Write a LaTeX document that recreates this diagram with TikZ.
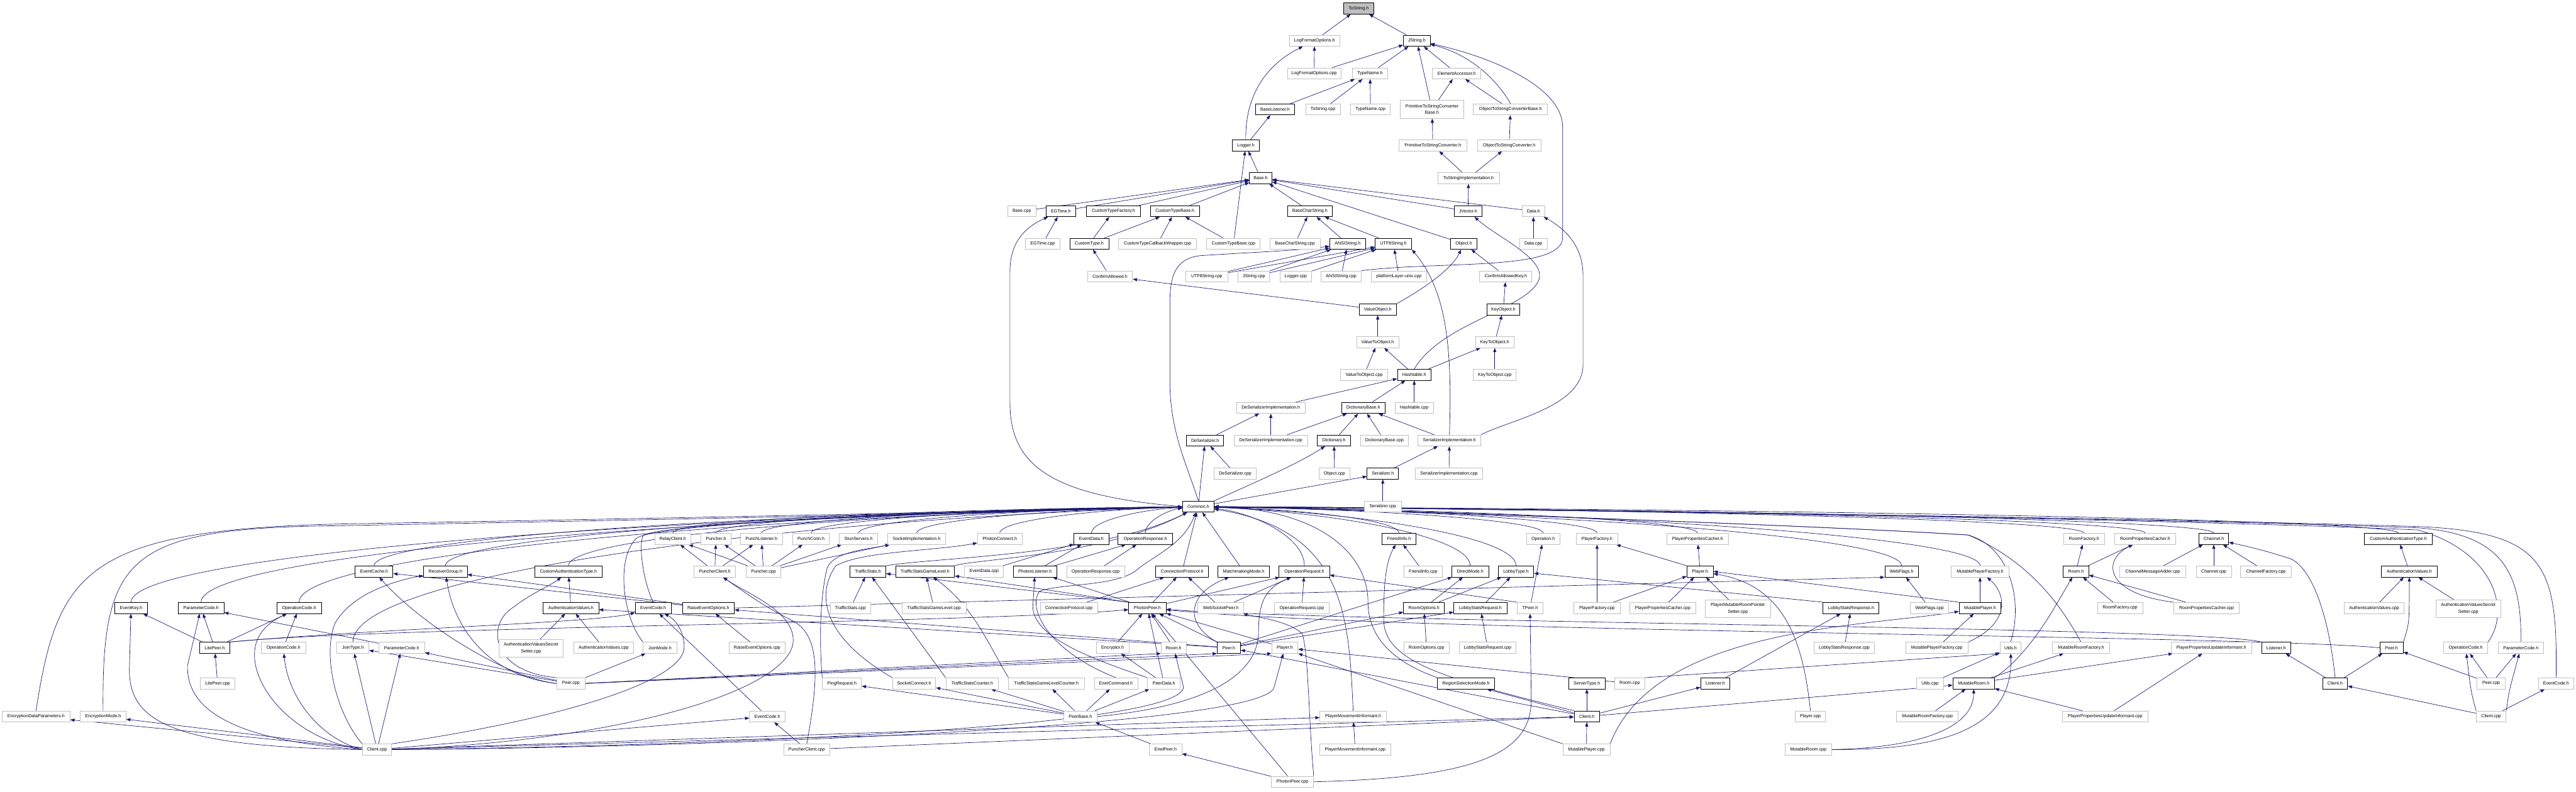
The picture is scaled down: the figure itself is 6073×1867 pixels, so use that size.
\documentclass[tikz,border=0pt]{standalone}
\usepackage{fontspec}
\setmainfont{Liberation Sans}
\usetikzlibrary{arrows.meta,calc}
\pgfdeclarelayer{bg}
\pgfsetlayers{bg,main}
\definecolor{edgec}{RGB}{25,25,112}
\definecolor{undgray}{RGB}{191,191,191}
\newcommand\mkn[6]{\node[#1,minimum width=#5pt] (#2) at (#3,#4) {#6};}
\newcommand\edg[2]{\draw[e] (#1) -- (#2);}
\newcommand\tocom[1]{\draw[e] (#1.north) to[cv] (common);}
\begin{document}
\begin{tikzpicture}[x=1pt,y=-1pt,
 box/.style={rectangle,inner sep=0pt,minimum height=26pt,font=\fontsize{10.5}{16}\selectfont,line width=1.2pt,fill=white,align=center},
 doc/.style={box,draw=black},
 und/.style={box,draw=undgray},
 two/.style={minimum height=42pt},
 e/.style={draw=edgec,line width=1pt,-{Triangle[length=10pt,width=7.5pt]}},
 cv/.style={to path={let \p1=(\tikztostart), \p2=(\tikztotarget) in .. controls (\x1,{0.5*\y1+0.5*\y2}) and ({0.5*\x1+0.5*\x2},{0.9*\y2+0.1*\y1}) .. (\tikztotarget)}}
]
\useasboundingbox (0,0) rectangle (6073,1867);
\begin{pgfonlayer}{bg}
\fill[white] (0,0) rectangle (6073,1867);
\end{pgfonlayer}
% ---------- upper part ----------
\mkn{doc,fill=undgray}{tostr}{3203}{20}{71}{ToString.h}
\mkn{und}{lfoh}{3099}{96}{119}{LogFormatOptions.h}
\mkn{doc}{jstrh}{3340}{96}{63}{JString.h}
\mkn{und}{lfocpp}{3098}{173}{126}{LogFormatOptions.cpp}
\mkn{und}{tnh}{3230}{173}{83}{TypeName.h}
\mkn{und}{eah}{3434}{173}{114}{ElementAccessor.h}
\mkn{doc}{blh}{3006}{258}{93}{BaseListener.h}
\mkn{und}{tscpp}{3119}{258}{81}{ToString.cpp}
\mkn{und}{tncpp}{3231}{258}{93}{TypeName.cpp}
\mkn{und,two}{ptscb}{3376}{258}{150}{PrimitiveToStringConverter\\Base.h}
\mkn{und}{otscb}{3561}{258}{175}{ObjectToStringConverterBase.h}
\mkn{doc}{loggerh}{2937}{343}{64}{Logger.h}
\mkn{und}{ptsc}{3378}{343}{159}{PrimitiveToStringConverter.h}
\mkn{und}{otsc}{3558}{343}{150}{ObjectToStringConverter.h}
\mkn{doc}{baseh}{2972}{420}{53}{Base.h}
\mkn{und}{tsimpl}{3462}{420}{145}{ToStringImplementation.h}
\mkn{und}{basecpp}{2409}{498}{66}{Base.cpp}
\mkn{doc}{egth}{2501}{498}{70}{EGTime.h}
\mkn{doc}{ctfh}{2625}{498}{128}{CustomTypeFactory.h}
\mkn{doc}{ctbh}{2770}{498}{115}{CustomTypeBase.h}
\mkn{doc}{bcsh}{3088}{498}{106}{BaseCharString.h}
\mkn{doc}{jvech}{3461}{498}{65}{JVector.h}
\mkn{und}{datah}{3615}{498}{53}{Data.h}
\mkn{und}{egtcpp}{2458}{575}{81}{EGTime.cpp}
\mkn{doc}{cth}{2568}{575}{92}{CustomType.h}
\mkn{und}{ctcwcpp}{2729}{575}{184}{CustomTypeCallbackWrapper.cpp}
\mkn{und}{ctbcpp}{2908}{575}{126}{CustomTypeBase.cpp}
\mkn{und}{bcscpp}{3053}{575}{118}{BaseCharString.cpp}
\mkn{doc}{ansih}{3177}{575}{84}{ANSIString.h}
\mkn{doc}{utf8h}{3285}{575}{86}{UTF8String.h}
\mkn{doc}{objh}{3451}{575}{62}{Object.h}
\mkn{und}{datacpp}{3615}{575}{65}{Data.cpp}
\mkn{und}{cah}{2617}{652}{106}{ConfirmAllowed.h}
\mkn{und}{utf8cpp}{2845}{652}{98}{UTF8String.cpp}
\mkn{und}{jstrcpp}{2956}{652}{74}{JString.cpp}
\mkn{und}{loggercpp}{3055}{652}{75}{Logger.cpp}
\mkn{und}{ansicpp}{3162}{652}{95}{ANSIString.cpp}
\mkn{und}{plcpp}{3298}{652}{131}{platformLayer-unix.cpp}
\mkn{und}{cakh}{3550}{652}{123}{ConfirmAllowedKey.h}
\mkn{doc}{voh}{3248}{730}{88}{ValueObject.h}
\mkn{doc}{koh}{3544}{730}{78}{KeyObject.h}
\mkn{und}{vtoh}{3248}{807}{100}{ValueToObject.h}
\mkn{und}{ktoh}{3524}{807}{91}{KeyToObject.h}
\mkn{und}{vtocpp}{3216}{884}{112}{ValueToObject.cpp}
\mkn{doc}{hth}{3334}{884}{79}{Hashtable.h}
\mkn{und}{ktocpp}{3524}{884}{101}{KeyToObject.cpp}
\mkn{und}{dsih}{2996}{962}{162}{DeSerializerImplementation.h}
\mkn{doc}{dbh}{3214}{962}{102}{DictionaryBase.h}
\mkn{und}{htcpp}{3334}{962}{90}{Hashtable.cpp}
\mkn{doc}{dsh}{2841}{1039}{88}{DeSerializer.h}
\mkn{und}{dsicpp}{2996}{1039}{173}{DeSerializerImplementation.cpp}
\mkn{doc}{dicth}{3145}{1039}{78}{Dictionary.h}
\mkn{und}{dbcpp}{3264}{1039}{112}{DictionaryBase.cpp}
\mkn{und}{sih}{3417}{1039}{148}{SerializerImplementation.h}
\mkn{und}{dscpp}{2912}{1117}{100}{DeSerializer.cpp}
\mkn{und}{objcpp}{3146}{1117}{73}{Object.cpp}
\mkn{doc}{serh}{3260}{1117}{74}{Serializer.h}
\mkn{und}{sicpp}{3416}{1117}{158}{SerializerImplementation.cpp}
\mkn{doc}{common}{2825}{1195}{74}{Common.h}
\mkn{und}{sercpp}{3260}{1195}{87}{Serializer.cpp}
% ---------- row A ----------
\mkn{und}{relayh}{1586}{1271}{85}{RelayClient.h}
\mkn{und}{puncherh}{1688}{1271}{70}{Puncher.h}
\mkn{und}{plh}{1795}{1271}{99}{PunchListener.h}
\mkn{und}{pconnh}{1912}{1271}{86}{PunchConn.h}
\mkn{und}{stunh}{2024}{1271}{90}{StunServers.h}
\mkn{und}{sockimplh}{2161}{1271}{136}{SocketImplementation.h}
\mkn{und}{pconnecth}{2357}{1271}{105}{PhotonConnect.h}
\mkn{doc}{edh}{2573}{1271}{82}{EventData.h}
\mkn{doc}{orh}{2700}{1271}{128}{OperationResponse.h}
\mkn{doc}{fih}{3298}{1271}{80}{FriendInfo.h}
\mkn{und}{oph}{3638}{1271}{79}{Operation.h}
\mkn{und}{pfh}{3765}{1271}{97}{PlayerFactory.h}
\mkn{und}{ppch}{4002}{1271}{145}{PlayerPropertiesCacher.h}
\mkn{und}{rfh}{4913}{1271}{96}{RoomFactory.h}
\mkn{und}{rpch}{5057}{1271}{144}{RoomPropertiesCacher.h}
\mkn{doc}{chanh}{5219}{1271}{70}{Channel.h}
\mkn{doc}{catc}{5654}{1271}{159}{CustomAuthenticationType.h}
% ---------- row B ----------
\mkn{doc}{ecacheh}{882}{1348}{89}{EventCache.h}
\mkn{doc}{rgh}{1050}{1348}{103}{ReceiverGroup.h}
\mkn{doc}{cat}{1340}{1348}{159}{CustomAuthenticationType.h}
\mkn{und}{pch}{1685}{1348}{99}{PuncherClient.h}
\mkn{und}{punchercpp}{1800}{1348}{82}{Puncher.cpp}
\mkn{doc}{tsh}{2046}{1348}{85}{TrafficStats.h}
\mkn{doc}{tsglh}{2181}{1348}{139}{TrafficStatsGameLevel.h}
\mkn{und}{edcpp}{2320}{1348}{92}{EventData.cpp}
\mkn{doc}{plish}{2440}{1348}{102}{PhotonListener.h}
\mkn{und}{orcpp}{2583}{1348}{137}{OperationResponse.cpp}
\mkn{doc}{cph}{2787}{1348}{125}{ConnectionProtocol.h}
\mkn{doc}{mmh}{2932}{1348}{122}{MatchmakingMode.h}
\mkn{doc}{oreqh}{3075}{1348}{119}{OperationRequest.h}
\mkn{und}{ficpp}{3355}{1348}{90}{FriendInfo.cpp}
\mkn{doc}{dmh}{3466}{1348}{87}{DirectMode.h}
\mkn{doc}{lth}{3574}{1348}{84}{LobbyType.h}
\mkn{doc}{playerh}{4008}{1348}{62}{Player.h}
\mkn{doc}{wfh}{4483}{1348}{79}{WebFlags.h}
\mkn{und}{mpfh}{4668}{1348}{135}{MutablePlayerFactory.h}
\mkn{doc}{roomh}{4894}{1348}{60}{Room.h}
\mkn{und}{cmacpp}{5075}{1348}{155}{ChannelMessageAdder.cpp}
\mkn{und}{chancpp}{5219}{1348}{83}{Channel.cpp}
\mkn{und}{chanfcpp}{5342}{1348}{119}{ChannelFactory.cpp}
\mkn{doc}{avhc}{5680}{1348}{131}{AuthenticationValues.h}
% ---------- row C ----------
\mkn{doc}{ekh}{309}{1434}{77}{EventKey.h}
\mkn{doc}{pcbh}{474}{1434}{108}{ParameterCode.h}
\mkn{doc}{ocbh}{705}{1434}{105}{OperationCode.h}
\mkn{doc}{avh}{1346}{1434}{131}{AuthenticationValues.h}
\mkn{doc}{ecbh}{1540}{1434}{85}{EventCode.h}
\mkn{doc}{reoh}{1670}{1434}{122}{RaiseEventOptions.h}
\mkn{und}{tscpp2}{2005}{1434}{96}{TrafficStats.cpp}
\mkn{und}{tsglcpp}{2202}{1434}{151}{TrafficStatsGameLevel.cpp}
\mkn{und}{cpcpp}{2520}{1434}{135}{ConnectionProtocol.cpp}
\mkn{doc}{ppeerh}{2705}{1434}{88}{PhotonPeer.h}
\mkn{und}{wsph}{2878}{1434}{109}{WebSocketPeer.h}
\mkn{und}{oreqcpp}{3069}{1434}{130}{OperationRequest.cpp}
\mkn{doc}{roh}{3357}{1434}{96}{RoomOptions.h}
\mkn{doc}{lsreqh}{3490}{1434}{125}{LobbyStatsRequest.h}
\mkn{und}{tpeerh}{3607}{1434}{61}{TPeer.h}
\mkn{und}{pfcpp}{3765}{1434}{109}{PlayerFactory.cpp}
\mkn{und}{ppccpp}{3920}{1434}{156}{PlayerPropertiesCacher.cpp}
\mkn{und,two}{pmrpscpp}{4097}{1436}{154}{PlayerMutableRoomPointer\\Setter.cpp}
\mkn{doc}{lsresph}{4364}{1434}{132}{LobbyStatsResponse.h}
\mkn{und}{wfcpp}{4549}{1434}{90}{WebFlags.cpp}
\mkn{doc}{mph}{4668}{1434}{99}{MutablePlayer.h}
\mkn{und}{rfcpp}{4998}{1434}{107}{RoomFactory.cpp}
\mkn{und}{rpccpp}{5202}{1434}{155}{RoomPropertiesCacher.cpp}
\mkn{und}{avcppc}{5597}{1434}{142}{AuthenticationValues.cpp}
\mkn{und,two}{avsscppc}{5819}{1436}{152}{AuthenticationValuesSecret\\Setter.cpp}
% ---------- row D ----------
\mkn{doc}{liteph}{506}{1528}{71}{LitePeer.h}
\mkn{und}{ocgh}{668}{1528}{105}{OperationCode.h}
\mkn{und}{jth}{832}{1528}{75}{JoinType.h}
\mkn{und}{pcgh}{947}{1528}{108}{ParameterCode.h}
\mkn{und,two}{avsscpp}{1252}{1529}{152}{AuthenticationValuesSecret\\Setter.cpp}
\mkn{und}{avcpp}{1423}{1528}{141}{AuthenticationValues.cpp}
\mkn{und}{jmh}{1556}{1528}{79}{JoinMode.h}
\mkn{und}{reocpp}{1785}{1528}{132}{RaiseEventOptions.cpp}
\mkn{und}{encrh}{2623}{1528}{77}{Encryptor.h}
\mkn{und}{roomgh}{2767}{1528}{60}{Room.h}
\mkn{doc}{peerh}{2897}{1528}{55}{Peer.h}
\mkn{und}{playergh}{3029}{1528}{62}{Player.h}
\mkn{und}{rocpp}{3363}{1528}{106}{RoomOptions.cpp}
\mkn{und}{lsreqcpp}{3507}{1528}{133}{LobbyStatsRequest.cpp}
\mkn{und}{lsrespcpp}{4348}{1528}{143}{LobbyStatsResponse.cpp}
\mkn{und}{mpfcpp}{4566}{1528}{147}{MutablePlayerFactory.cpp}
\mkn{und}{utilsh}{4740}{1528}{50}{Utils.h}
\mkn{und}{mrfh}{4906}{1528}{134}{MutableRoomFactory.h}
\mkn{und}{ppuih}{5213}{1528}{190}{PlayerPropertiesUpdateInformant.h}
\mkn{doc}{lisch}{5366}{1528}{69}{Listener.h}
\mkn{doc}{peerhc}{5638}{1528}{55}{Peer.h}
\mkn{und}{occh}{5813}{1528}{104}{OperationCode.h}
\mkn{und}{pcch}{5943}{1528}{108}{ParameterCode.h}
% ---------- row E ----------
\mkn{und}{litepcpp}{513}{1612}{82}{LitePeer.cpp}
\mkn{und}{peercpp}{1346}{1612}{67}{Peer.cpp}
\mkn{und}{pingh}{1985}{1612}{92}{PingRequest.h}
\mkn{und}{sockch}{2155}{1612}{102}{SocketConnect.h}
\mkn{und}{tsch}{2292}{1612}{124}{TrafficStatsCounter.h}
\mkn{und}{tsglch}{2467}{1612}{178}{TrafficStatsGameLevelCounter.h}
\mkn{und}{enetch}{2631}{1612}{102}{EnetCommand.h}
\mkn{und}{pdh}{2744}{1612}{77}{PeerData.h}
\mkn{doc}{rsmh}{3456}{1612}{134}{RegionSelectionMode.h}
\mkn{doc}{sth}{3741}{1612}{86}{ServerType.h}
\mkn{und}{roomcpp}{3842}{1612}{71}{Room.cpp}
\mkn{doc}{lish}{4044}{1612}{69}{Listener.h}
\mkn{und}{utilscpp}{4550}{1612}{63}{Utils.cpp}
\mkn{doc}{mrh}{4653}{1612}{98}{MutableRoom.h}
\mkn{doc}{clienthc}{5505}{1612}{59}{Client.h}
\mkn{und}{peercppc}{5873}{1612}{66}{Peer.cpp}
\mkn{und}{ecch}{6026}{1612}{84}{EventCode.h}
% ---------- row F ----------
\mkn{und}{edph}{85}{1690}{160}{EncryptionDataParameters.h}
\mkn{und}{emh}{243}{1690}{108}{EncryptionMode.h}
\mkn{und}{ecgh}{1809}{1690}{84}{EventCode.h}
\mkn{und}{peerbaseh}{2547}{1690}{79}{PeerBase.h}
\mkn{und}{pmih}{3190}{1690}{157}{PlayerMovementInformant.h}
\mkn{doc}{clienth}{3741}{1690}{60}{Client.h}
\mkn{und}{playercpp}{4268}{1690}{71}{Player.cpp}
\mkn{und}{mrfcpp}{4544}{1690}{145}{MutableRoomFactory.cpp}
\mkn{und}{ppuicpp}{4963}{1690}{203}{PlayerPropertiesUpdateInformant.cpp}
\mkn{und}{clientcppc}{5873}{1690}{70}{Client.cpp}
% ---------- row G / H ----------
\mkn{und}{clientcpp}{889}{1768}{69}{Client.cpp}
\mkn{und}{pccpp}{1902}{1768}{109}{PuncherClient.cpp}
\mkn{und}{enetph}{2748}{1768}{76}{EnetPeer.h}
\mkn{und}{pmicpp}{3195}{1768}{168}{PlayerMovementInformant.cpp}
\mkn{und}{mpcpp}{3740}{1768}{111}{MutablePlayer.cpp}
\mkn{und}{mrcpp}{4263}{1768}{109}{MutableRoom.cpp}
\mkn{und}{ppcpp}{3047}{1844}{99}{PhotonPeer.cpp}

\begin{pgfonlayer}{bg}
% ===== upper part edges =====
\edg{lfoh}{tostr}
\edg{jstrh}{tostr}
\edg{lfocpp}{lfoh}
\draw[e] (loggerh.north) .. controls (2935,220) and (2990,150) .. (lfoh);
\edg{lfocpp}{jstrh}
\edg{tnh}{jstrh}
\edg{ptscb}{jstrh}
\edg{eah}{jstrh}
\draw[e] (otscb.north) .. controls (3530,190) and (3470,130) .. (jstrh);
\draw[e] (ansicpp.north east) .. controls (3400,615) and (3684,640) .. (3684,560) -- (3684,300) .. controls (3684,200) and (3500,130) .. (jstrh);
\edg{blh}{tnh}
\edg{tscpp}{tnh}
\edg{tncpp}{tnh}
\edg{ptscb}{eah}
\edg{otscb}{eah}
\edg{ptsc}{ptscb}
\edg{otsc}{otscb}
\edg{tsimpl}{ptsc}
\edg{tsimpl}{otsc}
\edg{loggerh}{blh}
\edg{baseh}{loggerh}
\edg{jvech}{tsimpl}
\edg{basecpp}{baseh}
\edg{egth}{baseh}
\edg{ctfh}{baseh}
\edg{ctbh}{baseh}
\edg{bcsh}{baseh}
\edg{objh}{baseh}
\edg{jvech}{baseh}
\edg{datah}{baseh}
\edg{ctbcpp}{loggerh}
\edg{egtcpp}{egth}
\draw[e] (common.west) .. controls (2480,1170) and (2381,1100) .. (2381,950) -- (2381,640) .. controls (2381,560) and (2430,530) .. (egth);
\edg{cth}{ctfh}
\edg{cth}{ctbh}
\edg{ctcwcpp}{ctbh}
\edg{ctbcpp}{ctbh}
\edg{bcscpp}{bcsh}
\edg{ansih}{bcsh}
\edg{utf8h}{bcsh}
\draw[e] (hth.north) .. controls (3400,760) and (3600,730) .. (3628,660) .. controls (3645,610) and (3530,560) .. (jvech);
\edg{datacpp}{datah}
\draw[e] (sih.north east) .. controls (3560,990) and (3732,960) .. (3732,860) -- (3732,650) .. controls (3732,580) and (3690,540) .. (datah);
\draw[e] (sih.north) .. controls (3425,800) and (3405,680) .. (utf8h.south east);
\edg{cah}{cth}
\edg{utf8cpp}{ansih}
\edg{jstrcpp}{ansih}
\edg{ansicpp}{ansih}
\draw[e] (common.north) .. controls (2800,1100) and (2758,1020) .. (2758,900) -- (2758,720) .. controls (2758,660) and (2765,610) .. (2830,603) .. controls (2950,595) and (3050,592) .. (ansih);
\edg{utf8cpp}{utf8h}
\edg{jstrcpp}{utf8h}
\edg{loggercpp}{utf8h}
\edg{plcpp}{utf8h}
\draw[e] (voh.north east) .. controls (3340,690) and (3420,640) .. (objh);
\edg{cakh}{objh}
\edg{voh}{cah}
\edg{koh}{cakh}
\edg{vtoh}{voh}
\edg{ktoh}{koh}
\edg{vtocpp}{vtoh}
\edg{hth}{vtoh}
\edg{hth}{ktoh}
\edg{ktocpp}{ktoh}
\edg{dsih}{hth}
\edg{dbh}{hth}
\edg{htcpp}{hth}
\edg{dsh}{dsih}
\edg{dsicpp}{dsih}
\edg{dsicpp}{dbh}
\edg{dicth}{dbh}
\edg{dbcpp}{dbh}
\edg{sih}{dbh}
\edg{common}{dsh}
\edg{dscpp}{dsh}
\draw[e] (common.north east) .. controls (2930,1150) and (3050,1100) .. (dicth);
\edg{objcpp}{dicth}
\edg{serh}{sih}
\edg{sicpp}{sih}
\edg{common}{serh}
\edg{sercpp}{serh}
% ===== edges into Common.h =====
\tocom{ekh}
\tocom{pcbh}
\tocom{ocbh}
\tocom{ecacheh}
\tocom{rgh}
\tocom{cat}
\tocom{jth}
\draw[e] (edph.north) .. controls (135,1350) and (200,1250) .. (800,1236) .. controls (1600,1222) and (2400,1205) .. (common);
\draw[e] (emh.north) .. controls (240,1310) and (300,1245) .. (800,1240) .. controls (1600,1225) and (2400,1208) .. (common);
\draw[e] (jmh.north west) .. controls (1470,1460) and (1450,1320) .. (1500,1270) .. controls (1540,1235) and (2200,1205) .. (common);
\draw[e] (ecbh.north) .. controls (1520,1380) and (1505,1300) .. (1515,1265) .. controls (1530,1235) and (2200,1207) .. (common);
\tocom{relayh}
\tocom{puncherh}
\tocom{plh}
\tocom{pconnh}
\tocom{stunh}
\tocom{sockimplh}
\draw[e] (tsh.north east) .. controls (2200,1315) and (2600,1310) .. (common);
\draw[e] (tsglh.north east) .. controls (2300,1318) and (2600,1312) .. (common);
\tocom{pconnecth}
\tocom{edh}
\tocom{orh}
\edg{cph}{common}
\edg{mmh}{common}
\tocom{oreqh}
\tocom{fih}
\tocom{dmh}
\tocom{lth}
\tocom{oph}
\tocom{pfh}
\tocom{ppch}
\tocom{wfh}
\tocom{rfh}
\tocom{rpch}
\tocom{chanh}
\tocom{mpfh}
\tocom{catc}
\draw[e] (rsmh.north west) .. controls (3280,1560) and (3225,1500) .. (3225,1420) .. controls (3225,1300) and (3100,1200) .. (common);
\draw[e] (pmih.north) .. controls (3180,1450) and (3170,1250) .. (common);
\draw[e] (utilsh.north) .. controls (4770,1420) and (4740,1290) .. (4640,1262) .. controls (4300,1240) and (3200,1200) .. (common);
\draw[e] (mrfh.north) .. controls (4870,1450) and (4800,1330) .. (4640,1262) .. controls (4300,1240) and (3200,1200) .. (common);
\draw[e] (occh.north east) .. controls (5920,1440) and (5880,1300) .. (5700,1250) .. controls (5000,1220) and (3500,1200) .. (common);
\draw[e] (pcch.north) .. controls (5945,1350) and (5900,1260) .. (5700,1245) .. controls (5000,1220) and (3500,1200) .. (common);
\draw[e] (ecch.north) .. controls (6030,1330) and (6000,1255) .. (5700,1242) .. controls (5000,1220) and (3500,1200) .. (common);
\draw[e] (enetch.north) .. controls (2480,1540) and (2420,1440) .. (2450,1395) .. controls (2500,1375) and (2640,1385) .. (2685,1340) .. controls (2740,1300) and (2790,1280) .. (common);
% ===== Lite =====
\edg{liteph}{ekh}
\edg{liteph}{pcbh}
\edg{liteph}{ocbh}
\edg{litepcpp}{liteph}
\edg{ocgh}{ocbh}
\edg{pcgh}{pcbh}
\draw[e] (liteph.north east) .. controls (900,1478) and (2300,1470) .. (ppeerh);
\draw[e] (liteph.north east) .. controls (900,1482) and (1400,1470) .. (ecbh);
% ===== LoadBalancing Client.cpp =====
\draw[e] (clientcpp.west) .. controls (400,1762) and (305,1700) .. (305,1580) -- (ekh);
\draw[e] (clientcpp.west) .. controls (520,1745) and (440,1660) .. (442,1570) -- (pcbh);
\draw[e] (clientcpp.west) .. controls (700,1745) and (600,1630) .. (600,1545) .. controls (600,1490) and (640,1465) .. (ocbh);
\draw[e] (clientcpp.west) .. controls (760,1745) and (680,1650) .. (ocgh);
\edg{clientcpp}{edph}
\edg{clientcpp}{emh}
\edg{clientcpp}{jth}
\edg{clientcpp}{pcgh}
\draw[e] (clientcpp.north west) .. controls (790,1680) and (760,1540) .. (790,1470) .. controls (830,1400) and (930,1370) .. (rgh);
\edg{clientcpp}{ecgh}
\draw[e] (clientcpp.north east) .. controls (1300,1700) and (1615,1610) .. (1613,1525) .. controls (1612,1485) and (1590,1460) .. (ecbh);
\draw[e] (clientcpp.east) .. controls (1500,1745) and (1870,1620) .. (1870,1510) .. controls (1870,1440) and (1760,1400) .. (pch);
\edg{clientcpp}{clienth}
\edg{clientcpp}{pmih}
\draw[e] (clientcpp.east) .. controls (1500,1762) and (2790,1725) .. (2790,1620) -- (roomgh);
\draw[e] (clientcpp.east) .. controls (1500,1766) and (2990,1720) .. (3004,1620) -- (playergh);
% ===== LoadBalancing Peer.cpp =====
\draw[e] (peercpp.west) .. controls (1200,1600) and (1000,1480) .. (ecacheh);
\draw[e] (peercpp.west) .. controls (1150,1595) and (1070,1480) .. (rgh);
\edg{peercpp}{jth}
\edg{peercpp}{pcgh}
\draw[e] (peercpp.north west) .. controls (1160,1585) and (1150,1480) .. (1200,1440) .. controls (1250,1400) and (1300,1380) .. (cat);
\edg{peercpp}{jmh}
\draw[e] (peercpp.east) -- (peerh.south west);
\draw[e] (peercpp.east) -- (roomgh.south west);
\draw[e] (peercpp.east) -- (playergh.south west);
% ===== LoadBalancing misc =====
\edg{avh}{cat}
\edg{avsscpp}{avh}
\edg{avcpp}{avh}
\edg{reoh}{ecacheh}
\edg{reoh}{rgh}
\draw[e] (reoh.east) -- (wfh.south west);
\edg{reocpp}{reoh}
\edg{ecgh}{ecbh}
\edg{pccpp}{ecgh}
\draw[e] (pccpp.north) .. controls (1930,1600) and (1935,1500) .. (1870,1465) .. controls (1800,1430) and (1760,1400) .. (pch);
\edg{pccpp}{clienth}
\edg{peerh}{ppeerh}
\edg{peerh}{avh}
\edg{peerh}{reoh}
\draw[e] (peerh.north west) .. controls (2790,1470) and (2800,1400) .. (mmh);
\edg{peerh}{roh}
\edg{peerh}{lsreqh}
\edg{peerh}{dmh}
% ===== Punch =====
\edg{pch}{relayh}
\edg{pch}{puncherh}
\edg{pch}{plh}
\edg{punchercpp}{relayh}
\edg{punchercpp}{puncherh}
\edg{punchercpp}{plh}
\edg{punchercpp}{pconnh}
\edg{punchercpp}{stunh}
\edg{punchercpp}{sockimplh}
% ===== Photon =====
\edg{tscpp2}{tsh}
\edg{tsglcpp}{tsglh}
\draw[e] (tsch.north west) -- (tsh);
\draw[e] (tsglch.north west) .. controls (2330,1520) and (2295,1430) .. (tsglh);
\draw[e] (pingh.north west) .. controls (1930,1500) and (1935,1400) .. (1950,1340) .. controls (1965,1300) and (2050,1295) .. (sockimplh);
\draw[e] (sockch.north west) .. controls (1935,1500) and (1925,1400) .. (1970,1335) .. controls (2030,1300) and (2200,1300) .. (pconnecth);
\edg{peerbaseh}{tsch}
\edg{peerbaseh}{tsglch}
\edg{peerbaseh}{enetch}
\edg{peerbaseh}{pdh}
\edg{peerbaseh}{pingh}
\edg{peerbaseh}{sockch}
\draw[e] (peerbaseh.east) .. controls (2850,1665) and (2967,1590) .. (2967,1490) .. controls (2967,1410) and (2990,1385) .. (oreqh);
\edg{enetph}{peerbaseh}
\edg{ppcpp}{enetph}
\edg{ppcpp}{ppeerh}
\draw[e] (ppcpp.east) .. controls (3500,1835) and (3610,1770) .. (3610,1650) -- (tpeerh);
\draw[e] (ppcpp.north east) .. controls (3085,1700) and (3085,1540) .. (3070,1495) .. controls (3040,1465) and (2960,1455) .. (wsph);
\edg{edcpp}{edh}
\edg{plish}{edh}
\edg{plish}{orh}
\edg{orcpp}{orh}
\edg{cpcpp}{cph}
\edg{ppeerh}{cph}
\edg{wsph}{cph}
\edg{ppeerh}{plish}
\draw[e] (ppeerh.north west) -- (tsh);
\draw[e] (ppeerh.north west) -- (tsglh);
\edg{ppeerh}{oreqh}
\edg{wsph}{oreqh}
\edg{oreqcpp}{oreqh}
\edg{encrh}{ppeerh}
\edg{roomgh}{ppeerh}
\edg{playergh}{ppeerh}
\edg{pdh}{ppeerh}
\edg{pdh}{encrh}
\draw[e] (pdh.north west) .. controls (2560,1550) and (2435,1500) .. (2435,1430) -- (plish);
\edg{tpeerh}{oph}
\draw[e] (tpeerh.north west) -- (oreqh);
% ===== LoadBalancing right =====
\edg{ficpp}{fih}
\draw[e] (clienth.north west) .. controls (3400,1600) and (3262,1560) .. (3262,1460) .. controls (3262,1360) and (3270,1320) .. (fih);
\edg{roh}{dmh}
\edg{roh}{lth}
\edg{lsreqh}{lth}
\edg{rocpp}{roh}
\edg{lsreqcpp}{lsreqh}
\edg{clienth}{rsmh}
\edg{clienth}{sth}
\edg{clienth}{peerh}
\edg{clienth}{lish}
\edg{clienth}{mrh}
\edg{mpcpp}{clienth}
\draw[e] (mpcpp.north west) -- (playergh.south east);
\draw[e] (mpcpp.north east) .. controls (3900,1480) and (4400,1478) .. (mph);
\edg{roomcpp}{playergh}
\draw[e] (roomcpp.north east) -- (utilsh.south west);
\edg{pmicpp}{pmih}
\edg{pfcpp}{pfh}
\edg{ppccpp}{playerh}
\edg{pmrpscpp}{playerh}
\edg{pfcpp}{playerh}
\draw[e] (playercpp.north) .. controls (4250,1500) and (4200,1380) .. (playerh);
\edg{playerh}{ppch}
\draw[e] (playerh.north west) -- (pfh);
\edg{wfcpp}{wfh}
\draw[e] (mrh.north east) .. controls (4790,1540) and (4850,1420) .. (roomh);
\edg{mrh}{mrfh}
\edg{mrh}{ppuih}
\edg{mrfcpp}{mrh}
\edg{ppuicpp}{ppuih}
\edg{ppuicpp}{mrh}
\draw[e] (mrcpp.east) .. controls (4500,1765) and (4653,1725) .. (mrh);
\draw[e] (mrcpp.east) .. controls (4600,1770) and (4745,1710) .. (utilsh);
\edg{utilscpp}{utilsh}
\edg{mph}{mpfh}
\draw[e] (mpfcpp.north east) .. controls (4740,1470) and (4730,1400) .. (mpfh);
\edg{mpfcpp}{mph}
\draw[e] (mph.north west) -- (playerh.east);
\edg{lish}{lsresph}
\edg{lsrespcpp}{lsresph}
\draw[e] (lsresph.north west) -- (lth);
\edg{roomh}{rfh}
\edg{roomh}{rpch}
\edg{rfcpp}{roomh}
\edg{rpccpp}{roomh}
\draw[e] (rpccpp.north west) .. controls (4960,1400) and (4955,1320) .. (rpch);
% ===== Chat =====
\edg{cmacpp}{chanh}
\edg{chancpp}{chanh}
\edg{chanfcpp}{chanh}
\draw[e] (clienthc.north) .. controls (5490,1450) and (5450,1340) .. (5400,1318) .. controls (5330,1295) and (5280,1285) .. (chanh);
\edg{avhc}{catc}
\edg{avcppc}{avhc}
\edg{avsscppc}{avhc}
\draw[e] (peerhc.north east) .. controls (5680,1470) .. (avhc);
\edg{clienthc}{lisch}
\edg{clienthc}{peerhc}
\edg{peercppc}{peerhc}
\edg{peercppc}{occh}
\edg{peercppc}{pcch}
\edg{clientcppc}{clienthc}
\draw[e] (clientcppc.north west) .. controls (5825,1630) .. (occh);
\draw[e] (clientcppc.north east) .. controls (5915,1630) .. (pcch);
\edg{clientcppc}{ecch}
\draw[e] (lisch.north west) .. controls (5200,1478) and (3200,1470) .. (ppeerh);
\draw[e] (peerhc.west) .. controls (5300,1498) and (3300,1492) .. (ppeerh);
\end{pgfonlayer}
\end{tikzpicture}
\end{document}
